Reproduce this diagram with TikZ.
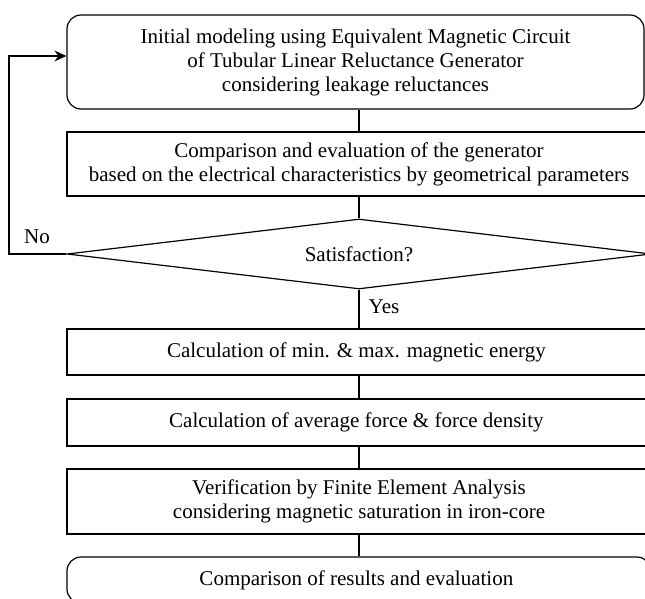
\documentclass[tikz,border=0pt]{standalone}
\usepackage{fontspec}
\setmainfont{Liberation Serif}
\usetikzlibrary{positioning,shapes.geometric,arrows.meta}

\begin{document}
\begin{tikzpicture}[
    x=1pt, y=-1pt,
    every node/.style={font=\fontsize{21}{24}\selectfont},
    procbox/.style={rectangle, draw, line width=1.2pt, minimum width=584pt, align=center, inner sep=0pt},
    roundbox/.style={procbox, rounded corners=14pt},
    decision/.style={diamond, draw, line width=1.2pt, minimum width=584pt, minimum height=70pt, aspect=8, inner sep=0pt},
    link/.style={draw, line width=1.2pt},
]

% Frame - the picture is cut at the right and bottom
\clip (0,0) rectangle (645,599);
\useasboundingbox (0,0) rectangle (645,599);

% Modeling and first evaluation
\node[roundbox, minimum width=577pt, minimum height=94pt] (init) at (355.5,62) {
    Initial modeling using Equivalent Magnetic Circuit\\
    of Tubular Linear Reluctance Generator\\
    considering leakage reluctances
};

\node[procbox, minimum height=64pt] (comp) at (359,164) {
    Comparison and evaluation of the generator\\
    based on the electrical characteristics by geometrical parameters
};

% Decision
\node[decision] (sat) at (359,254) {Satisfaction?};
\node (no) at (37,237) {No};
\node (yes) at (384,307) {Yes};

% Calculation steps
\node[procbox, minimum height=46pt] (energy) at (359,352) {
    Calculation of min. \& max. magnetic energy
};

\node[procbox, minimum height=47pt] (force) at (359,422.5) {
    Calculation of average force \& force density
};

\node[procbox, minimum height=65pt] (fea) at (359,501.5) {
    Verification by Finite Element Analysis\\
    considering magnetic saturation in iron-core
};

\node[roundbox, minimum height=46pt] (result) at (359,580) {
    Comparison of results and evaluation
};

% Connectors
\coordinate (back) at (9,56);
\draw[link] (comp.north) -- (comp.north |- init.south);
\draw[link] (comp.south) -- (sat.north);
\draw[link] (sat.south) -- (energy.north);
\draw[link] (energy.south) -- (force.north);
\draw[link] (force.south) -- (fea.north);
\draw[link] (fea.south) -- (result.north);
\draw[link, -{Stealth[length=12pt, width=11pt, inset=4pt]}] (sat.west) -| (back) -- (back -| init.west);

\end{tikzpicture}
\end{document}
